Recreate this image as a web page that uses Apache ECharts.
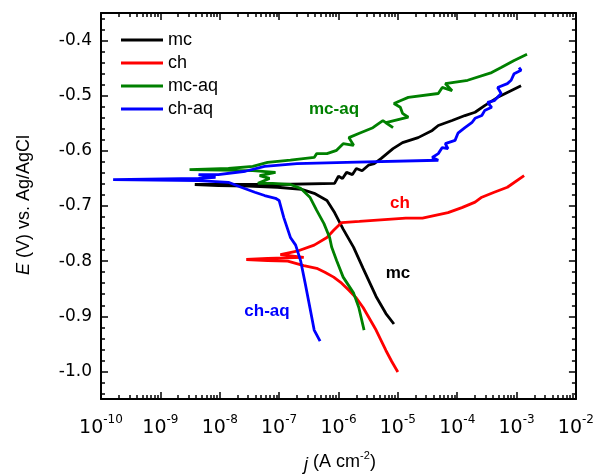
<!DOCTYPE html>
<html>
<head>
<meta charset="utf-8">
<script src="https://cdn.jsdelivr.net/npm/echarts@6/dist/echarts.min.js"></script>
<style>
  html, body { margin: 0; padding: 0; background: #fff; }
  #chart { width: 597px; height: 474px; }
</style>
</head>
<body>
<div id="chart"></div>
<script>
// polarization curves: [j (A cm-2), E (V vs. Ag/AgCl)]
const mc = [
  [8.6e-6, -0.914], [6.3e-6, -0.895], [4.3e-6, -0.864], [2.6e-6, -0.813], [1.8e-6, -0.775],
  [1.2e-6, -0.742], [8.6e-7, -0.712], [6.4e-7, -0.690], [3.9e-7, -0.677], [2.4e-7, -0.670],
  [9.4e-8, -0.666], [3.0e-8, -0.664], [9.5e-9, -0.663], [3.8e-9, -0.661], [1.4e-8, -0.661],
  [9.4e-8, -0.661], [8.6e-7, -0.659], [1.0e-6, -0.646], [1.17e-6, -0.650], [1.37e-6, -0.639],
  [1.72e-6, -0.643], [2.0e-6, -0.632], [2.5e-6, -0.636], [3.2e-6, -0.626], [4.0e-6, -0.623],
  [5.2e-6, -0.614], [8.3e-6, -0.596], [1.2e-5, -0.585], [2.2e-5, -0.576], [3.8e-5, -0.563],
  [4.8e-5, -0.554], [8.2e-5, -0.545], [1.35e-4, -0.536], [2.0e-4, -0.530], [2.9e-4, -0.518],
  [4.8e-4, -0.503], [7.0e-4, -0.494], [1.19e-3, -0.482]
];
const ch = [
  [1.0e-5, -1.001], [7.9e-6, -0.982], [6.3e-6, -0.962], [4.3e-6, -0.925], [2.6e-6, -0.884],
  [2.0e-6, -0.867], [1.5e-6, -0.853], [1.13e-6, -0.840], [8.3e-7, -0.829], [5.9e-7, -0.820],
  [4.3e-7, -0.813], [2.6e-7, -0.808], [1.4e-7, -0.800], [6.4e-8, -0.799], [2.8e-8, -0.797],
  [6.4e-8, -0.795], [2.6e-7, -0.793], [1.05e-7, -0.788], [2.0e-7, -0.782], [3.9e-7, -0.771],
  [6.4e-7, -0.757], [8.3e-7, -0.744], [1.13e-6, -0.730], [2.25e-6, -0.728], [1.36e-5, -0.722],
  [2.6e-5, -0.722], [7.0e-5, -0.712], [1.2e-4, -0.703], [2.0e-4, -0.693], [2.6e-4, -0.684],
  [4.2e-4, -0.675], [7.0e-4, -0.666], [1.34e-3, -0.645]
];
const mcAq = [
  [2.7e-6, -0.925], [2.2e-6, -0.884], [1.8e-6, -0.858], [1.2e-6, -0.829], [9.3e-7, -0.799],
  [7.7e-7, -0.775], [7.1e-7, -0.757], [5.7e-7, -0.732], [4.3e-7, -0.708], [3.3e-7, -0.684],
  [2.3e-7, -0.668], [1.55e-7, -0.661], [7.8e-8, -0.659], [4.4e-8, -0.659], [6.9e-8, -0.650],
  [4.7e-8, -0.645], [8.7e-8, -0.639], [3.6e-8, -0.636], [3.1e-9, -0.634], [1.4e-8, -0.632],
  [3.6e-8, -0.628], [6.4e-8, -0.621], [1.55e-7, -0.617], [3.9e-7, -0.612], [4.3e-7, -0.605],
  [6.4e-7, -0.605], [9.3e-7, -0.599], [1.2e-6, -0.587], [1.8e-6, -0.590], [1.5e-6, -0.576],
  [2.25e-6, -0.568], [3.8e-6, -0.558], [4.8e-6, -0.550], [5.6e-6, -0.545], [8.3e-6, -0.558],
  [6.3e-6, -0.549], [1.5e-5, -0.539], [1.2e-5, -0.532], [1.1e-5, -0.521], [8.6e-6, -0.514],
  [1.1e-5, -0.509], [1.5e-5, -0.503], [4.8e-5, -0.496], [5.6e-5, -0.485], [8.2e-5, -0.491],
  [6.3e-5, -0.478], [1.5e-4, -0.472], [3.8e-4, -0.458], [5.5e-4, -0.449], [9.1e-4, -0.436],
  [1.5e-3, -0.425]
];
const chAq = [
  [4.9e-7, -0.945], [3.9e-7, -0.925], [3.3e-7, -0.884], [2.75e-7, -0.840], [2.3e-7, -0.799],
  [1.9e-7, -0.771], [1.55e-7, -0.757], [1.2e-7, -0.721], [1.0e-7, -0.690], [8.7e-8, -0.686],
  [5.7e-8, -0.681], [3.9e-8, -0.675], [2.3e-8, -0.666], [1.4e-8, -0.657], [4.4e-9, -0.654],
  [1.6e-10, -0.652], [4.4e-9, -0.650], [8.5e-9, -0.648], [4.4e-9, -0.643], [9.5e-9, -0.643],
  [2.7e-8, -0.637], [5.7e-8, -0.628], [2.0e-7, -0.623], [1.37e-6, -0.621], [4.8e-5, -0.617],
  [3.8e-5, -0.612], [4.8e-5, -0.605], [5.6e-5, -0.594], [7.0e-5, -0.596], [6.3e-5, -0.587],
  [9.2e-5, -0.581], [1.03e-4, -0.568], [1.35e-4, -0.558], [1.76e-4, -0.549], [2.0e-4, -0.541],
  [2.6e-4, -0.536], [2.9e-4, -0.527], [3.8e-4, -0.521], [3.25e-4, -0.512], [4.2e-4, -0.509],
  [5.5e-4, -0.496], [4.8e-4, -0.485], [7.0e-4, -0.478], [8.1e-4, -0.472], [9.1e-4, -0.460],
  [1.19e-3, -0.454], [1.1e-3, -0.449]
];

const names = ['mc', 'ch', 'mc-aq', 'ch-aq'];
const colors = ['#000000', '#ff0000', '#008000', '#0000ff'];
const curves = [mc, ch, mcAq, chAq];
const yTicks = [-1.0, -0.9, -0.8, -0.7, -0.6, -0.5, -0.4];

// minor tick positions (decoration only)
const yMinor = [];
for (let i = -52; i <= -18; i++) {
  if (i % 5 !== 0) yMinor.push(+(i * 0.02).toFixed(2));
}
const xMinor = [];
for (let n = -10; n < -2; n++) {
  for (let k = 2; k <= 9; k++) xMinor.push(n + Math.log10(k));
}

const black = '#000';
const tickFont = 'DejaVu Sans';
const textFont = 'Liberation Sans';

const mainX = (pos, labels) => ({
  type: 'log', logBase: 10, min: 1e-10, max: 1e-2, splitNumber: 8, position: pos,
  axisLine: { show: true, onZero: false, lineStyle: { color: black, width: 2 } },
  axisTick: { inside: true, length: 7, lineStyle: { color: black, width: 1.5 } },
  splitLine: { show: false },
  axisLabel: labels ? {
    margin: 15,
    formatter: v => '{n|10}{e|' + Math.round(Math.log10(v)) + '}',
    rich: {
      n: { fontFamily: tickFont, fontSize: 19, color: black, verticalAlign: 'bottom', lineHeight: 24 },
      e: { fontFamily: tickFont, fontSize: 12, color: black, verticalAlign: 'top', lineHeight: 24 }
    }
  } : { show: false }
});
const minorX = pos => ({
  type: 'value', min: -10, max: -2, position: pos,
  axisLine: { show: false, onZero: false },
  axisTick: { inside: true, length: 4, customValues: xMinor, lineStyle: { color: black, width: 1.5 } },
  axisLabel: { show: false }, splitLine: { show: false }
});
const mainY = (pos, labels) => ({
  type: 'value', min: -1.05, max: -0.35, position: pos,
  axisLine: { show: true, onZero: false, lineStyle: { color: black, width: 2 } },
  axisTick: { inside: true, length: 7, customValues: yTicks, lineStyle: { color: black, width: 1.5 } },
  splitLine: { show: false },
  axisLabel: labels ? {
    margin: 9, customValues: yTicks, formatter: v => v.toFixed(1),
    fontFamily: tickFont, fontSize: 17, color: black
  } : { show: false }
});
const minorY = pos => ({
  type: 'value', min: -1.05, max: -0.35, position: pos,
  axisLine: { show: false, onZero: false },
  axisTick: { inside: true, length: 4, customValues: yMinor, lineStyle: { color: black, width: 1.5 } },
  axisLabel: { show: false }, splitLine: { show: false }
});

const note = (text, x, y, color) => ({
  type: 'text', x: x, y: y, silent: true,
  style: { text: text, fill: color, font: 'bold 17px "Liberation Sans"', align: 'center', verticalAlign: 'middle' }
});

const chart = echarts.init(document.getElementById('chart'));
chart.setOption({
  animation: false,
  backgroundColor: '#fff',
  grid: { left: 101, right: 14, top: 13, bottom: 75, containLabel: false },
  xAxis: [mainX('bottom', true), mainX('top', false), minorX('bottom'), minorX('top')],
  yAxis: [mainY('left', true), mainY('right', false), minorY('left'), minorY('right')],
  legend: {
    orient: 'vertical', left: 116, top: 24, icon: 'rect',
    itemWidth: 42, itemHeight: 3, itemGap: 1,
    textStyle: { fontFamily: textFont, fontSize: 18, lineHeight: 22, color: black },
    data: names
  },
  series: curves.map((d, i) => ({
    name: names[i], type: 'line', data: d, xAxisIndex: 0, yAxisIndex: 0,
    symbol: 'none', color: colors[i],
    lineStyle: { color: colors[i], width: 2.8 }
  })),
  graphic: [
    note('mc-aq', 334, 109, '#008000'),
    note('ch', 400, 203, '#ff0000'),
    note('mc', 398, 273, '#000000'),
    note('ch-aq', 267, 311, '#0000ff'),
    {
      type: 'text', x: 24, y: 205, rotation: Math.PI / 2, silent: true,
      style: {
        text: '{i|E} (V) vs. Ag/AgCl', fill: black, font: '18px "Liberation Sans"',
        align: 'center', verticalAlign: 'middle',
        rich: { i: { fontStyle: 'italic', fontFamily: textFont, fontSize: 18 } }
      }
    },
    {
      type: 'text', x: 340, y: 462, silent: true,
      style: {
        text: '{i|j} (A cm{s|-2})', fill: black, font: '18px "Liberation Sans"',
        align: 'center', verticalAlign: 'middle',
        rich: {
          i: { fontStyle: 'italic', fontFamily: textFont, fontSize: 18, verticalAlign: 'bottom', lineHeight: 24 },
          s: { fontFamily: textFont, fontSize: 11, verticalAlign: 'top', lineHeight: 24 }
        }
      }
    }
  ]
});
</script>
</body>
</html>
